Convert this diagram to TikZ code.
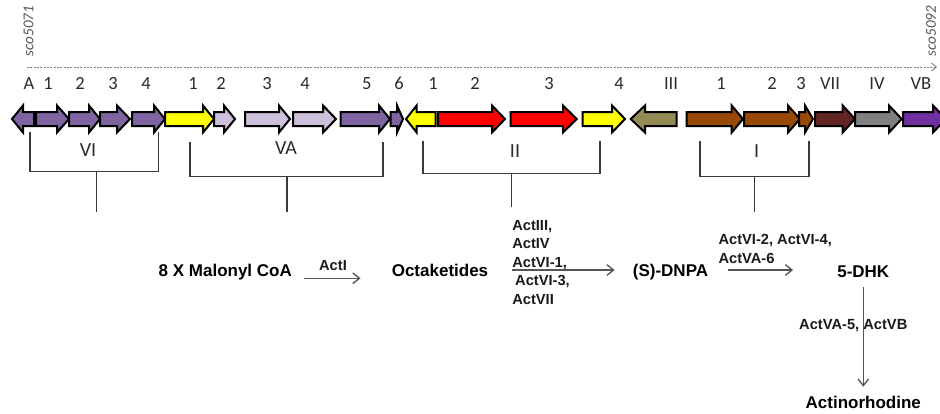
\documentclass[tikz,border=0pt]{standalone}
\usepackage{fontspec}
\setmainfont{Liberation Sans}
\newfontfamily\calfont{Carlito}
\usetikzlibrary{arrows.meta}

\definecolor{genePurple}{HTML}{8064A2}
\definecolor{geneLilac}{HTML}{CCC0DA}
\definecolor{geneYellow}{HTML}{FFFF00}
\definecolor{geneRed}{HTML}{FF0000}
\definecolor{geneOlive}{HTML}{948A54}
\definecolor{geneBrown}{HTML}{984807}
\definecolor{geneMaroon}{HTML}{632523}
\definecolor{geneGray}{HTML}{808080}
\definecolor{geneViolet}{HTML}{7030A0}
\definecolor{labelGray}{HTML}{2B2B2B}
\definecolor{enzymeInk}{HTML}{1A1A1A}
\definecolor{lineGray}{HTML}{3A3A3A}
\definecolor{flowGray}{HTML}{555555}
\definecolor{axisGray}{HTML}{7F7F7F}

% one gene: tail x, tip x, head-base x, fill colour
\newcommand{\gene}[4]{%
  \draw[gene, fill=#4] (#1,112) -- (#3,112) -- (#3,105.5) -- (#2,119)
    -- (#3,132.5) -- (#3,126) -- (#1,126) -- cycle;}

\begin{document}
\begin{tikzpicture}[x=0.75pt, y=-0.75pt,
  gene/.style={draw=black, line width=1.5pt, line join=miter},
  tick/.style={font={\calfont\fontsize{13.9pt}{16pt}\selectfont}, text=labelGray,
    inner sep=0pt, text height=8.95pt, text depth=0pt},
  cluster/.style={font={\calfont\fontsize{15pt}{18pt}\selectfont}, text=labelGray,
    inner sep=0pt, text height=9.66pt, text depth=0pt},
  locus/.style={font={\calfont\itshape\fontsize{11.3pt}{13pt}\selectfont}, text=flowGray,
    inner sep=0pt, rotate=90},
  bracket/.style={draw=lineGray, line width=0.9pt},
  compound/.style={font={\bfseries\fontsize{12.75pt}{15pt}\selectfont}, text=black,
    inner sep=0pt, text height=9.13pt, text depth=0pt},
  enzyme/.style={font={\bfseries\fontsize{11pt}{13.9pt}\selectfont}, text=enzymeInk,
    inner sep=0pt, align=left},
  flow/.style={draw=flowGray, line width=1pt, -{Straight Barb[length=5pt, width=8pt]}},
  axis/.style={draw=axisGray, line width=0.7pt, dash pattern=on 1.5pt off 1pt,
    -{Straight Barb[length=3.5pt, width=6pt]}}]

\useasboundingbox (0,0) rectangle (940,414);
\clip (0,0) rectangle (940,414);

% chromosome axis with the flanking loci
\node[locus] (locL) at (28.5,31) {sco5071};
\node[locus] (locR) at (931,31) {sco5092};
\coordinate (axisL) at (27,67);
\coordinate (axisR) at (937,67);
\draw[axis] (axisL) -- (axisR);

% gene names
\foreach \x/\t [count=\i] in {29/A, 48/1, 80/2, 113/3, 146/4, 193/1, 221/2, 267/3,
    305/4, 366.7/5, 399/6, 433/1, 475/2, 549/3, 619/4, 671/III, 721/1, 772/2,
    801/3, 830/VII, 877/IV, 921/VB}
  \node[tick] (g\i) at (\x,83.3) {\t};

% genes
\gene{34}{12}{23}{genePurple}
\gene{36}{69}{57}{genePurple}
\gene{69}{100}{89}{genePurple}
\gene{100}{130}{117}{genePurple}
\gene{132}{165}{154}{genePurple}
\gene{165}{214}{203}{geneYellow}
\gene{214}{235}{224}{geneLilac}
\gene{245}{290}{279}{geneLilac}
\gene{293}{336}{323}{geneLilac}
\gene{340.7}{390}{379}{genePurple}
\gene{390.7}{403}{397}{genePurple}
\gene{435.7}{406}{416.7}{geneYellow}
\gene{438}{505}{492}{geneRed}
\gene{510.7}{576.7}{563}{geneRed}
\gene{582.7}{625}{612}{geneYellow}
\gene{676.7}{630.7}{645}{geneOlive}
\gene{686.7}{743}{731.7}{geneBrown}
\gene{744}{800}{788}{geneBrown}
\gene{799}{813}{805}{geneBrown}
\gene{815}{855}{842.7}{geneMaroon}
\gene{855}{901.7}{889}{geneGray}
\gene{903}{946}{933}{geneViolet}

% transcription units
\draw[bracket] (30,132) |- (158.7,171.7) -- (158.7,132);
\draw[bracket] (96.7,171.7) -- (96.7,211.7);
\node[cluster] (cVI) at (88,150) {VI};

\draw[bracket] (190,141.7) |- (383,176.7) -- (383,141.7);
\draw[bracket] (287,176.7) -- (287,212);
\node[cluster] (cVA) at (286,148) {VA};

\draw[bracket] (423,141) |- (600,173.3) -- (600,141);
\draw[bracket] (511.7,173.3) -- (511.7,207);
\node[cluster] (cII) at (515,151) {II};

\draw[bracket] (700,141) |- (809,176.7) -- (809,141);
\draw[bracket] (754.3,176.7) -- (754.3,211.7);
\node[cluster] (cI) at (756.7,151) {I};

% biosynthetic pathway
\node[compound] (mal) at (225.3,270) {8 X Malonyl CoA};
\node[compound] (oct) at (440,270) {Octaketides};
\node[compound] (dnpa) at (670.5,270.5) {(S)-DNPA};
\node[compound] (dhk) at (863.3,271) {5-DHK};
\node[compound] (act) at (863.3,402) {Actinorhodine};

\draw[flow] ([shift={(12,8.3)}]mal.east) -- ([shift={(-31,8.3)}]oct.west);
\draw[flow] ([shift={(24,0)}]oct.east) -- ([shift={(-18,-0.5)}]dnpa.west);
\draw[flow] ([shift={(20,-0.5)}]dnpa.east) -- ([shift={(-44,-1)}]dhk.west);
\draw[flow] ([shift={(0,10)}]dhk.south) -- ([shift={(0,-9)}]act.north);

\node[enzyme, anchor=base] (eI) at (333,270.3) {ActI};
\node[enzyme, anchor=north west, font={\bfseries\fontsize{11pt}{13.9pt}\selectfont}]
  (eII) at (512,219.8) {ActIII,\\ActIV\\ActVI-1,\\\hspace{2.2pt}ActVI-3,\\ActVII};
\node[enzyme, anchor=north west, font={\bfseries\fontsize{11pt}{14.25pt}\selectfont}]
  (eIII) at (718.3,233.8) {ActVI-2, ActVI-4,\\ActVA-6};
\node[enzyme, anchor=base] (eIV) at (853.3,329.3) {ActVA-5, ActVB};

\end{tikzpicture}
\end{document}
